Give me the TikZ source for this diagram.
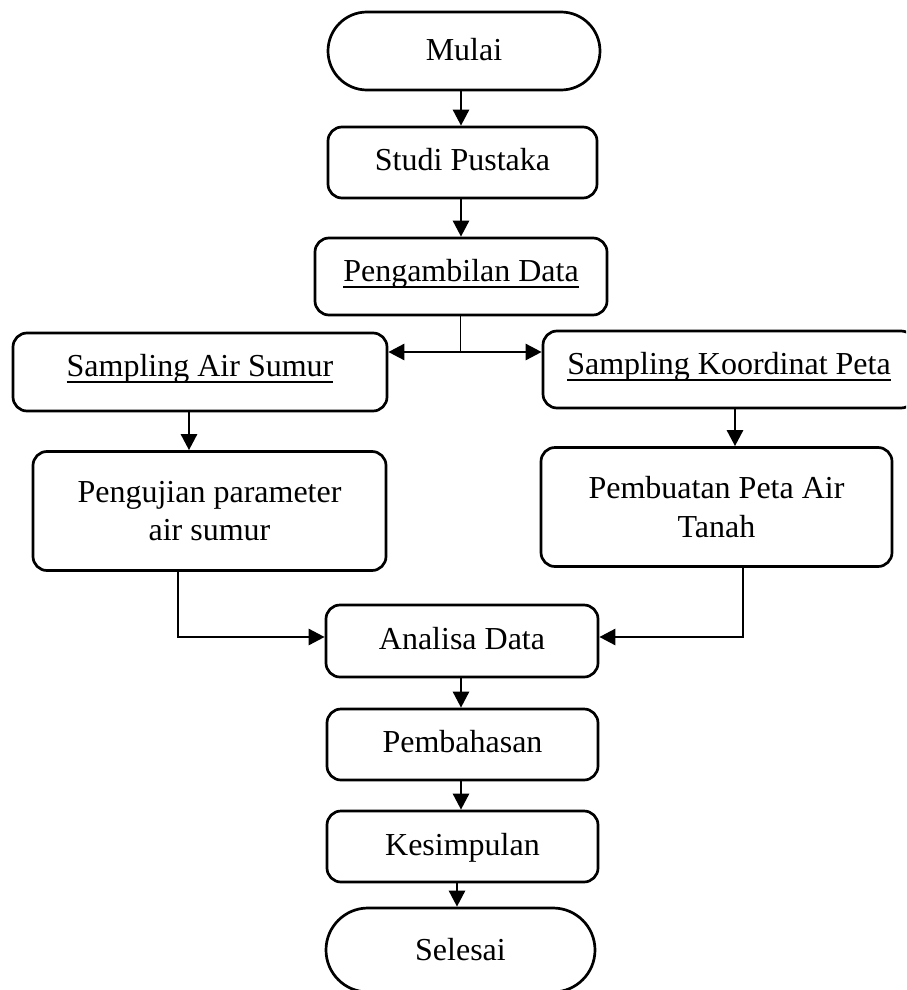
\documentclass[tikz,border=0pt]{standalone}
\usepackage{fontspec}
\setmainfont{Liberation Serif}
\usetikzlibrary{arrows.meta}
\newcommand{\ulx}[1]{\setbox0=\hbox{#1}\rlap{\rule[-7pt]{\wd0}{2.2pt}}\box0}
\tikzset{
  bx/.style={draw, line width=2.7pt, rounded corners=14pt, inner sep=0pt,
    font=\fontsize{32pt}{38.5pt}\selectfont},
  term/.style={draw, line width=2.7pt, inner sep=0pt,
    font=\fontsize{32pt}{38.5pt}\selectfont},
  arr/.style={line width=2.7pt, -{Triangle[length=16pt,width=16pt]}},
  thinline/.style={line width=1pt}
}
\begin{document}
\begin{tikzpicture}[x=1pt,y=-1pt]
\useasboundingbox (0,0) rectangle (906,990);
\clip (0,0) rectangle (906,990);
\fill[white] (0,0) rectangle (906,990);

\node[term, rounded corners=39pt, minimum width=272pt, minimum height=78pt,
  text height=24.5pt, text depth=4.5pt] (mulai) at (464,51) {Mulai};
\node[bx, minimum width=269pt, minimum height=71pt,
  text height=22pt, text depth=7pt] (studi) at (462.5,162.5) {Studi Pustaka};
\node[bx, minimum width=292pt, minimum height=77pt,
  text height=19pt, text depth=10pt] (pd) at (461,276.5) {\ulx{Pengambilan Data}};
\node[bx, minimum width=374pt, minimum height=78pt,
  text height=18.5pt, text depth=10.5pt] (sas) at (200,372) {\ulx{Sampling Air Sumur}};
\node[bx, minimum width=372pt, minimum height=77pt,
  text height=19pt, text depth=10pt] (skp) at (729,369.5) {\ulx{Sampling Koordinat Peta}};
\node[bx, minimum width=353pt, minimum height=119pt, align=center] (peng) at (209.5,511)
  {Pengujian parameter\\air sumur};
\node[bx, minimum width=351pt, minimum height=119pt, align=center] (pemb) at (716.5,507)
  {Pembuatan Peta Air\\Tanah};
\node[bx, minimum width=272pt, minimum height=72pt,
  text height=22.5pt, text depth=6.5pt] (anal) at (462,641) {Analisa Data};
\node[bx, minimum width=271pt, minimum height=71pt,
  text height=22pt, text depth=7pt] (bahas) at (462.5,744.5) {Pembahasan};
\node[bx, minimum width=271pt, minimum height=71pt,
  text height=23pt, text depth=6pt] (simp) at (462.5,846.5) {Kesimpulan};
\node[term, rounded corners=42pt, minimum width=269pt, minimum height=84pt,
  text height=24.5pt, text depth=4.5pt] (sel) at (460.5,950) {Selesai};

\coordinate (split) at (460,352);

\draw[arr] ([xshift=-3pt]mulai.south) -- ([xshift=-3pt]mulai.south |- studi.north);
\draw[arr] ([xshift=-1.5pt]studi.south) -- ([xshift=-1.5pt]studi.south |- pd.north);
\draw[thinline] (pd.south -| split) -- (split);
\draw[arr] (split) -- (sas.east |- split);
\draw[arr] (split) -- (skp.west |- split);
\draw[arr] ([xshift=-11pt]sas.south) -- ([xshift=-11pt]sas.south |- peng.north);
\draw[arr] ([xshift=6pt]skp.south) -- ([xshift=6pt]skp.south |- pemb.north);
\draw[arr] ([xshift=-31.5pt]peng.south) |- ([yshift=4pt]anal.west);
\draw[arr] ([xshift=26.5pt]pemb.south) |- ([yshift=4pt]anal.east);
\draw[arr] ([xshift=-1pt]anal.south) -- ([xshift=-1pt]anal.south |- bahas.north);
\draw[arr] ([xshift=-1.5pt]bahas.south) -- ([xshift=-1.5pt]bahas.south |- simp.north);
\draw[arr] ([xshift=-5.5pt]simp.south) -- ([xshift=-5.5pt]simp.south |- sel.north);
\end{tikzpicture}
\end{document}
